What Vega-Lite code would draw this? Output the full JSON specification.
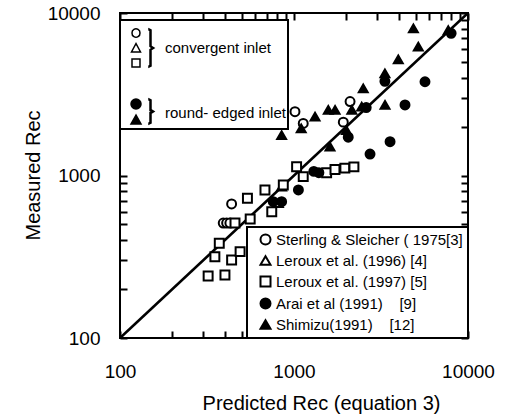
{
  "$schema": "https://vega.github.io/schema/vega-lite/v6.json",
  "width": 348,
  "height": 325,
  "autosize": "none",
  "padding": {"left": 120, "top": 13, "right": 37, "bottom": 82},
  "background": "white",
  "config": {"view": {"stroke": "black", "strokeWidth": 2}, "font": "Liberation Sans", "legend": {"strokeWidth": 2}},
  "datasets": {
    "diag": [{"pred": 100, "meas": 100}, {"pred": 10000, "meas": 10000}],
    "obs": [
      {"pred": 438, "meas": 668, "series": "Sterling & Sleicher ( 1975[3]", "inlet": "convergent inlet"},
      {"pred": 392, "meas": 510, "series": "Sterling & Sleicher ( 1975[3]", "inlet": "convergent inlet"},
      {"pred": 410, "meas": 510, "series": "Sterling & Sleicher ( 1975[3]", "inlet": "convergent inlet"},
      {"pred": 428, "meas": 510, "series": "Sterling & Sleicher ( 1975[3]", "inlet": "convergent inlet"},
      {"pred": 1013, "meas": 2470, "series": "Sterling & Sleicher ( 1975[3]", "inlet": "convergent inlet"},
      {"pred": 1130, "meas": 2093, "series": "Sterling & Sleicher ( 1975[3]", "inlet": "convergent inlet"},
      {"pred": 1920, "meas": 2130, "series": "Sterling & Sleicher ( 1975[3]", "inlet": "convergent inlet"},
      {"pred": 2100, "meas": 2850, "series": "Sterling & Sleicher ( 1975[3]", "inlet": "convergent inlet"},
      {"pred": 813, "meas": 675, "series": "Leroux et al. (1996) [4]", "inlet": "convergent inlet"},
      {"pred": 849, "meas": 853, "series": "Leroux et al. (1996) [4]", "inlet": "convergent inlet"},
      {"pred": 321, "meas": 241, "series": "Leroux et al. (1997) [5]", "inlet": "convergent inlet"},
      {"pred": 401, "meas": 244, "series": "Leroux et al. (1997) [5]", "inlet": "convergent inlet"},
      {"pred": 438, "meas": 302, "series": "Leroux et al. (1997) [5]", "inlet": "convergent inlet"},
      {"pred": 490, "meas": 340, "series": "Leroux et al. (1997) [5]", "inlet": "convergent inlet"},
      {"pred": 351, "meas": 316, "series": "Leroux et al. (1997) [5]", "inlet": "convergent inlet"},
      {"pred": 372, "meas": 383, "series": "Leroux et al. (1997) [5]", "inlet": "convergent inlet"},
      {"pred": 458, "meas": 510, "series": "Leroux et al. (1997) [5]", "inlet": "convergent inlet"},
      {"pred": 540, "meas": 724, "series": "Leroux et al. (1997) [5]", "inlet": "convergent inlet"},
      {"pred": 560, "meas": 540, "series": "Leroux et al. (1997) [5]", "inlet": "convergent inlet"},
      {"pred": 745, "meas": 598, "series": "Leroux et al. (1997) [5]", "inlet": "convergent inlet"},
      {"pred": 681, "meas": 815, "series": "Leroux et al. (1997) [5]", "inlet": "convergent inlet"},
      {"pred": 868, "meas": 875, "series": "Leroux et al. (1997) [5]", "inlet": "convergent inlet"},
      {"pred": 1035, "meas": 1132, "series": "Leroux et al. (1997) [5]", "inlet": "convergent inlet"},
      {"pred": 1130, "meas": 984, "series": "Leroux et al. (1997) [5]", "inlet": "convergent inlet"},
      {"pred": 1540, "meas": 1040, "series": "Leroux et al. (1997) [5]", "inlet": "convergent inlet"},
      {"pred": 1720, "meas": 1090, "series": "Leroux et al. (1997) [5]", "inlet": "convergent inlet"},
      {"pred": 1960, "meas": 1110, "series": "Leroux et al. (1997) [5]", "inlet": "convergent inlet"},
      {"pred": 2210, "meas": 1130, "series": "Leroux et al. (1997) [5]", "inlet": "convergent inlet"},
      {"pred": 760, "meas": 690, "series": "Arai et al (1991)\u00a0\u00a0\u00a0 [9]", "inlet": "round- edged inlet"},
      {"pred": 849, "meas": 690, "series": "Arai et al (1991)\u00a0\u00a0\u00a0 [9]", "inlet": "round- edged inlet"},
      {"pred": 1060, "meas": 815, "series": "Arai et al (1991)\u00a0\u00a0\u00a0 [9]", "inlet": "round- edged inlet"},
      {"pred": 1300, "meas": 1060, "series": "Arai et al (1991)\u00a0\u00a0\u00a0 [9]", "inlet": "round- edged inlet"},
      {"pred": 1390, "meas": 1040, "series": "Arai et al (1991)\u00a0\u00a0\u00a0 [9]", "inlet": "round- edged inlet"},
      {"pred": 2050, "meas": 1720, "series": "Arai et al (1991)\u00a0\u00a0\u00a0 [9]", "inlet": "round- edged inlet"},
      {"pred": 2735, "meas": 1355, "series": "Arai et al (1991)\u00a0\u00a0\u00a0 [9]", "inlet": "round- edged inlet"},
      {"pred": 3565, "meas": 1615, "series": "Arai et al (1991)\u00a0\u00a0\u00a0 [9]", "inlet": "round- edged inlet"},
      {"pred": 2600, "meas": 2620, "series": "Arai et al (1991)\u00a0\u00a0\u00a0 [9]", "inlet": "round- edged inlet"},
      {"pred": 4345, "meas": 2716, "series": "Arai et al (1991)\u00a0\u00a0\u00a0 [9]", "inlet": "round- edged inlet"},
      {"pred": 5660, "meas": 3775, "series": "Arai et al (1991)\u00a0\u00a0\u00a0 [9]", "inlet": "round- edged inlet"},
      {"pred": 3330, "meas": 3800, "series": "Arai et al (1991)\u00a0\u00a0\u00a0 [9]", "inlet": "round- edged inlet"},
      {"pred": 8000, "meas": 7500, "series": "Arai et al (1991)\u00a0\u00a0\u00a0 [9]", "inlet": "round- edged inlet"},
      {"pred": 849, "meas": 1774, "series": "Shimizu(1991)\u00a0\u00a0\u00a0 [12]", "inlet": "round- edged inlet"},
      {"pred": 1100, "meas": 1950, "series": "Shimizu(1991)\u00a0\u00a0\u00a0 [12]", "inlet": "round- edged inlet"},
      {"pred": 1321, "meas": 2300, "series": "Shimizu(1991)\u00a0\u00a0\u00a0 [12]", "inlet": "round- edged inlet"},
      {"pred": 1574, "meas": 2530, "series": "Shimizu(1991)\u00a0\u00a0\u00a0 [12]", "inlet": "round- edged inlet"},
      {"pred": 1722, "meas": 2530, "series": "Shimizu(1991)\u00a0\u00a0\u00a0 [12]", "inlet": "round- edged inlet"},
      {"pred": 1610, "meas": 1503, "series": "Shimizu(1991)\u00a0\u00a0\u00a0 [12]", "inlet": "round- edged inlet"},
      {"pred": 2000, "meas": 1900, "series": "Shimizu(1991)\u00a0\u00a0\u00a0 [12]", "inlet": "round- edged inlet"},
      {"pred": 2150, "meas": 2530, "series": "Shimizu(1991)\u00a0\u00a0\u00a0 [12]", "inlet": "round- edged inlet"},
      {"pred": 2450, "meas": 2655, "series": "Shimizu(1991)\u00a0\u00a0\u00a0 [12]", "inlet": "round- edged inlet"},
      {"pred": 3335, "meas": 2716, "series": "Shimizu(1991)\u00a0\u00a0\u00a0 [12]", "inlet": "round- edged inlet"},
      {"pred": 2500, "meas": 3440, "series": "Shimizu(1991)\u00a0\u00a0\u00a0 [12]", "inlet": "round- edged inlet"},
      {"pred": 3330, "meas": 4250, "series": "Shimizu(1991)\u00a0\u00a0\u00a0 [12]", "inlet": "round- edged inlet"},
      {"pred": 3975, "meas": 5190, "series": "Shimizu(1991)\u00a0\u00a0\u00a0 [12]", "inlet": "round- edged inlet"},
      {"pred": 5180, "meas": 6210, "series": "Shimizu(1991)\u00a0\u00a0\u00a0 [12]", "inlet": "round- edged inlet"},
      {"pred": 4855, "meas": 8050, "series": "Shimizu(1991)\u00a0\u00a0\u00a0 [12]", "inlet": "round- edged inlet"},
      {"pred": 7700, "meas": 7850, "series": "Shimizu(1991)\u00a0\u00a0\u00a0 [12]", "inlet": "round- edged inlet"}
    ]
  },
  "encoding": {
    "x": {
      "field": "pred", "type": "quantitative",
      "scale": {"type": "log", "domain": [100, 10000], "nice": false},
      "axis": {
        "title": "Predicted Rec (equation 3)",
        "values": [100,200,300,400,500,600,700,800,900,1000,2000,3000,4000,5000,6000,7000,8000,9000,10000],
        "labelExpr": "datum.value == 100 ? '100' : datum.value == 1000 ? '1000' : datum.value == 10000 ? '10000' : ''",
        "labelOverlap": false, "labelFlush": false,
        "ticks": false, "domain": false,
        "grid": true, "gridColor": "black", "gridWidth": 2, "gridOpacity": 1, "gridDash": [7, 311, 7, 2000],
        "labelFontSize": 19, "labelColor": "black", "labelPadding": 24,
        "titleFontSize": 20, "titleFontWeight": "normal", "titleColor": "black",
        "titleX": 201, "titleY": 65, "titleAlign": "center", "titleBaseline": "middle"
      }
    },
    "y": {
      "field": "meas", "type": "quantitative",
      "scale": {"type": "log", "domain": [100, 10000], "nice": false},
      "axis": {
        "title": "Measured Rec",
        "values": [100,200,300,400,500,600,700,800,900,1000,2000,3000,4000,5000,6000,7000,8000,9000,10000],
        "labelExpr": "datum.value == 100 ? '100' : datum.value == 1000 ? '1000' : datum.value == 10000 ? '10000' : ''",
        "labelOverlap": false, "labelFlush": false,
        "ticks": false, "domain": false,
        "grid": true, "gridColor": "black", "gridWidth": 2, "gridOpacity": 1, "gridDash": [7, 334, 7, 2000],
        "labelFontSize": 19, "labelColor": "black", "labelPadding": 20,
        "titleFontSize": 20, "titleFontWeight": "normal", "titleColor": "black",
        "titleX": -87, "titleY": 162, "titleAngle": -90, "titleAlign": "center", "titleBaseline": "middle"
      }
    }
  },
  "layer": [
    {
      "data": {"name": "diag"},
      "mark": {"type": "line", "color": "black", "strokeWidth": 2.5}
    },
    {
      "data": {"name": "obs"},
      "mark": {"type": "point", "filled": true, "strokeWidth": 2, "size": 80, "opacity": 1},
      "encoding": {
        "shape": {
          "field": "series", "type": "nominal",
          "scale": {
            "domain": ["Sterling & Sleicher ( 1975[3]", "Leroux et al. (1996) [4]", "Leroux et al. (1997) [5]", "Arai et al (1991)\u00a0\u00a0\u00a0 [9]", "Shimizu(1991)\u00a0\u00a0\u00a0 [12]"],
            "range": ["circle", "triangle-up", "square", "circle", "triangle-up"]
          },
          "legend": {
            "title": null, "orient": "bottom-right", "offset": 0, "padding": 5,
            "strokeColor": "black", "fillColor": "white",
            "symbolSize": 100, "symbolStrokeWidth": 2, "symbolOffset": 6, "symbolOpacity": 1,
            "labelFontSize": 15, "labelColor": "black", "labelLimit": 400, "labelOffset": 3, "rowPadding": 3
          }
        },
        "fill": {
          "field": "series", "type": "nominal",
          "scale": {
            "domain": ["Sterling & Sleicher ( 1975[3]", "Leroux et al. (1996) [4]", "Leroux et al. (1997) [5]", "Arai et al (1991)\u00a0\u00a0\u00a0 [9]", "Shimizu(1991)\u00a0\u00a0\u00a0 [12]"],
            "range": ["white", "white", "white", "black", "black"]
          },
          "legend": {
            "title": null, "orient": "bottom-right", "offset": 0, "padding": 5,
            "strokeColor": "black", "fillColor": "white",
            "symbolSize": 100, "symbolStrokeWidth": 2, "symbolOffset": 6, "symbolOpacity": 1,
            "labelFontSize": 15, "labelColor": "black", "labelLimit": 400, "labelOffset": 3, "rowPadding": 3
          }
        },
        "stroke": {
          "field": "series", "type": "nominal",
          "scale": {
            "domain": ["Sterling & Sleicher ( 1975[3]", "Leroux et al. (1996) [4]", "Leroux et al. (1997) [5]", "Arai et al (1991)\u00a0\u00a0\u00a0 [9]", "Shimizu(1991)\u00a0\u00a0\u00a0 [12]"],
            "range": ["black", "black", "black", "black", "black"]
          },
          "legend": {
            "title": null, "orient": "bottom-right", "offset": 0, "padding": 5,
            "strokeColor": "black", "fillColor": "white",
            "symbolSize": 100, "symbolStrokeWidth": 2, "symbolOffset": 6, "symbolOpacity": 1,
            "labelFontSize": 15, "labelColor": "black", "labelLimit": 400, "labelOffset": 3, "rowPadding": 3
          }
        }
      }
    },
    {
      "data": {"name": "obs"},
      "transform": [{"filter": "datum.pred < 0"}],
      "mark": {"type": "point", "filled": true, "strokeWidth": 1.5, "opacity": 1},
      "encoding": {
        "shape": {
          "field": "inlet", "type": "nominal",
          "scale": {
            "domain": ["convergent inlet", "round- edged inlet"],
            "range": [
              "M 0.133 -1 A 0.267 0.267 0 1 1 -0.4 -1 A 0.267 0.267 0 1 1 0.133 -1 Z M -0.133 -0.3 L -0.433 0.267 L 0.167 0.267 Z M -0.4 0.733 L 0.133 0.733 L 0.133 1.267 L -0.4 1.267 Z M 0.733 -1.267 L 0.867 -1.2 L 0.867 -0.133 L 1.067 0 L 0.867 0.133 L 0.867 1.2 L 0.733 1.267 L 0.733 1.2 L 0.8 1.167 L 0.8 0.1 L 0.933 0 L 0.8 -0.1 L 0.8 -1.167 L 0.733 -1.2 Z",
              "M 0.2 -0.6 A 0.333 0.333 0 1 1 -0.467 -0.6 A 0.333 0.333 0 1 1 0.2 -0.6 Z M -0.133 0.133 L -0.467 0.733 L 0.2 0.733 Z M 0.733 -0.933 L 0.867 -0.867 L 0.867 -0.233 L 1.067 -0.1 L 0.867 0.033 L 0.867 0.667 L 0.733 0.733 L 0.733 0.667 L 0.8 0.633 L 0.8 -0.033 L 0.933 -0.1 L 0.8 -0.167 L 0.8 -0.833 L 0.733 -0.867 Z"
            ]
          },
          "legend": {
            "title": " ", "titleFontSize": 8, "titlePadding": 2, "orient": "none", "legendX": 0, "legendY": 7, "padding": 2,
            "strokeColor": "black", "fillColor": "white",
            "symbolSize": 900, "symbolStrokeWidth": 1.5, "symbolOpacity": 1,
            "labelFontSize": 15, "labelColor": "black", "labelLimit": 400, "labelOffset": 11, "rowPadding": 24
          }
        },
        "fill": {
          "field": "inlet", "type": "nominal",
          "scale": {"domain": ["convergent inlet", "round- edged inlet"], "range": ["white", "black"]},
          "legend": {
            "title": " ", "titleFontSize": 8, "titlePadding": 2, "orient": "none", "legendX": 0, "legendY": 7, "padding": 2,
            "strokeColor": "black", "fillColor": "white",
            "symbolSize": 900, "symbolStrokeWidth": 1.5, "symbolOpacity": 1,
            "labelFontSize": 15, "labelColor": "black", "labelLimit": 400, "labelOffset": 11, "rowPadding": 24
          }
        },
        "stroke": {
          "field": "inlet", "type": "nominal",
          "scale": {"domain": ["convergent inlet", "round- edged inlet"], "range": ["black", "black"]},
          "legend": {
            "title": " ", "titleFontSize": 8, "titlePadding": 2, "orient": "none", "legendX": 0, "legendY": 7, "padding": 2,
            "strokeColor": "black", "fillColor": "white",
            "symbolSize": 900, "symbolStrokeWidth": 1.5, "symbolOpacity": 1,
            "labelFontSize": 15, "labelColor": "black", "labelLimit": 400, "labelOffset": 11, "rowPadding": 24
          }
        }
      }
    }
  ],
  "resolve": {"scale": {"shape": "independent", "fill": "independent", "stroke": "independent"}}
}
